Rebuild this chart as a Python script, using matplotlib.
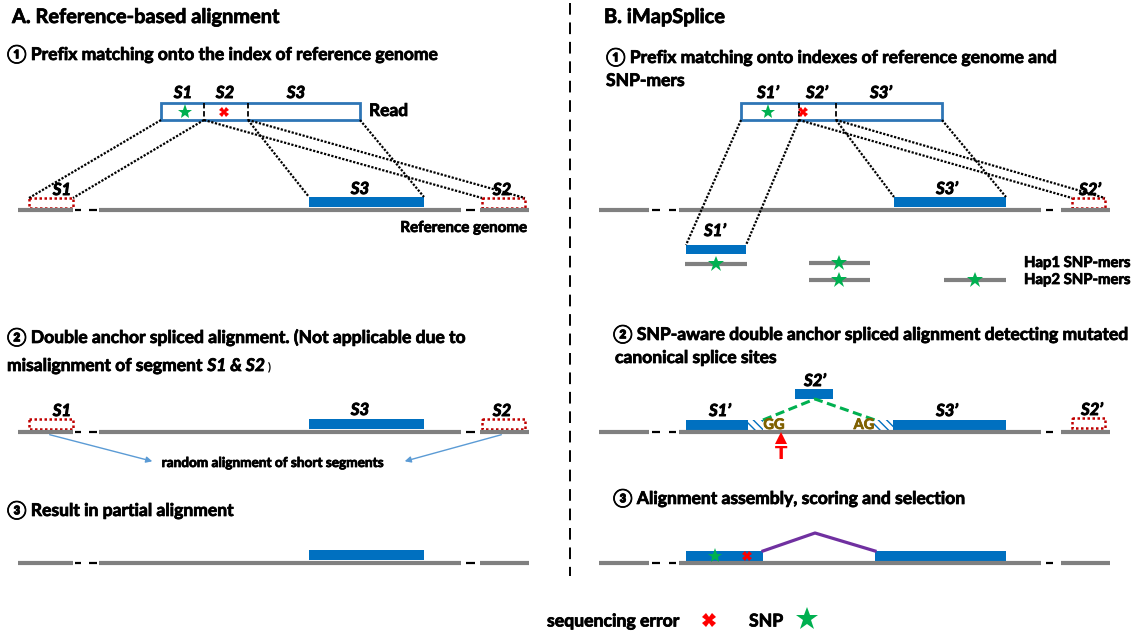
import matplotlib
matplotlib.use("Agg")
import matplotlib.pyplot as plt
from matplotlib.patches import Rectangle, FancyArrowPatch
import matplotlib.patheffects as pe

FONT = ['Lato', 'Noto Sans CJK SC', 'DejaVu Sans']
plt.rcParams['font.family'] = FONT

BLUE = '#0070C0'
BOXBLUE = '#2E75B6'
GRAY = '#808080'
RED_DOT = '#C00000'
GREEN = '#00B050'
RED = '#FF0000'
PURPLE = '#7030A0'
BROWN = '#7F6000'
ARROW = '#5B9BD5'

# ---- text content ----
title_a = "A. Reference-based alignment"
title_b = "B. iMapSplice"
step_a = ["\u2460 Prefix matching onto the index of reference genome",
          "\u2461 Double anchor spliced alignment. (Not applicable due to",
          "\u2462 Result in partial alignment"]
step_b = ["\u2460 Prefix matching onto indexes of reference genome and",
          "SNP-mers",
          "\u2461 SNP-aware double anchor spliced alignment detecting mutated",
          "canonical splice sites",
          "\u2462 Alignment assembly, scoring and selection"]

# ---- layout elements (pixel coordinates, y downward) ----
genome_a = [(18, 73), (99, 461), (480, 529)]
dashes_a = [(75, 81), (89, 97), (466, 475)]
genome_b = [(599, 649), (679, 1041), (1061, 1110)]
dashes_b = [(652, 660), (669, 676), (1046, 1053)]

read_a = (161, 360)
div_a = [204, 248]
read_b = (741, 942)
div_b = [799, 836]

fig = plt.figure(figsize=(11.42, 6.32), dpi=100)
ax = fig.add_axes([0, 0, 1, 1])
ax.set_xlim(0, 1142)
ax.set_ylim(632, 0)
ax.axis('off')

HS = 12.6  # heading size


def fx(color, w=0.55):
    return [pe.withStroke(linewidth=w, foreground=color)]


def txt(x, y, s, size=HS, ha='left', style='normal', color='black', weight='bold', **kw):
    return ax.text(x, y, s, fontsize=size, ha=ha, va='center', fontweight=weight,
                   fontstyle=style, color=color, path_effects=fx(color), **kw)


def seglabel(x, y, s, size=12):
    ax.text(x, y, s, fontsize=size, ha='center', va='center', fontweight='bold',
            fontstyle='italic', color='black', path_effects=fx('black', 0.7))


def genome(y, segs, dashes):
    for x0, x1 in segs:
        ax.plot([x0, x1], [y, y], color=GRAY, lw=3, solid_capstyle='butt')
    for x0, x1 in dashes:
        ax.plot([x0, x1], [y, y], color='black', lw=1.6, solid_capstyle='butt')


def bar(x0, x1, y0, y1, color=BLUE):
    ax.add_patch(Rectangle((x0, y0), x1 - x0, y1 - y0, facecolor=color, edgecolor='none'))


def hatchbar(x0, x1, y0, y1):
    ax.add_patch(Rectangle((x0, y0), x1 - x0, y1 - y0, facecolor='white', edgecolor=BLUE,
                           hatch='\\\\\\\\', lw=0))


def redbox(x0, x1, y0, y1):
    ax.add_patch(Rectangle((x0, y0), x1 - x0, y1 - y0, facecolor='none', edgecolor=RED_DOT,
                           lw=1.8, linestyle=(0, (1, 1))))


def readbox(x0, x1, y0, y1, divs):
    ax.add_patch(Rectangle((x0, y0), x1 - x0, y1 - y0, facecolor='white', edgecolor=BOXBLUE, lw=2))
    for d in divs:
        ax.plot([d, d], [y0, y1], color='black', lw=1.3, linestyle=(0, (3, 1.5)))


def dotted(p, q):
    ax.plot([p[0], q[0]], [p[1], q[1]], color='black', lw=1.6, linestyle=(0, (1, 0.7)))


def star(x, y, s=11):
    ax.plot([x], [y], marker='*', color=GREEN, markersize=s, markeredgewidth=0, zorder=5)


def xmark(x, y, s=7):
    ax.plot([x], [y], marker='X', color=RED, markersize=s, markeredgewidth=0, zorder=5)


# ================= Panel A =================
txt(12, 17, title_a, size=14.4)
txt(7, 54, step_a[0])

readbox(read_a[0], read_a[1], 103, 120, div_a)
seglabel(183, 93, "S1")
seglabel(225, 93, "S2")
seglabel(296, 93, "S3")
star(185, 112)
xmark(224, 112)
txt(369, 111, "Read", size=12.5)

genome(210, genome_a, dashes_a)
redbox(29, 73, 198, 208)
redbox(482, 525, 198, 208)
bar(309, 424, 197, 207)
seglabel(62, 190, "S1")
seglabel(360, 189, "S3")
seglabel(502, 190, "S2")
dotted((161, 120), (29, 198))
dotted((204, 120), (73, 198))
dotted((204, 120), (482, 198))
dotted((248, 120), (309, 197))
dotted((248, 120), (525, 198))
dotted((360, 120), (424, 197))
txt(527, 228, "Reference genome", size=10.9, ha='right')

# step 2
txt(7, 337, step_a[1])
t1 = txt(7, 366, "misalignment of segment ")
t2 = ax.annotate("S1 & S2", xy=(1, 0.5), xycoords=t1, va='center', ha='left',
                 fontsize=HS, fontweight='bold', fontstyle='italic',
                 path_effects=fx('black'))
ax.annotate(" )", xy=(1, 0.45), xycoords=t2, va='center', ha='left',
            fontsize=8.5, fontweight='bold')

genome(432, genome_a, dashes_a)
redbox(29, 73, 419, 429)
redbox(482, 525, 419, 429)
bar(309, 424, 419, 429)
seglabel(62, 411, "S1")
seglabel(360, 410, "S3")
seglabel(502, 411, "S2")
for p, q in [((47, 434), (155, 462)), ((504, 434), (402, 462))]:
    ax.add_patch(FancyArrowPatch(p, q, arrowstyle='-|>', mutation_scale=9, color=ARROW, lw=1))
txt(273, 463, "random alignment of short segments", size=9.8, ha='center')

# step 3
txt(7, 510, step_a[2])
genome(563, genome_a, dashes_a)
bar(309, 424, 550, 560)

# ================= divider =================
ax.plot([570, 570], [3, 576], color='black', lw=1.4, linestyle=(0, (6, 4)))

# ================= Panel B =================
txt(604, 17, title_b, size=14.4)
txt(606, 57, step_b[0])
txt(606, 81, step_b[1])

readbox(read_b[0], read_b[1], 103, 120, div_b)
seglabel(768, 93, "S1\u2019")
seglabel(817, 93, "S2\u2019")
seglabel(881, 93, "S3\u2019")
star(768, 112)
xmark(803, 112)

genome(210, genome_b, dashes_b)
bar(894, 1006, 197, 207)
redbox(1072, 1105, 198, 208)
seglabel(947, 189, "S3\u2019")
seglabel(1090, 190, "S2\u2019")
bar(686, 746, 245, 254)
seglabel(715, 231, "S1\u2019")
dotted((741, 120), (686, 245))
dotted((799, 120), (746, 245))
dotted((799, 120), (1072, 198))
dotted((836, 120), (894, 197))
dotted((836, 120), (1105, 198))
dotted((942, 120), (1006, 197))

# SNP-mers
for (x0, x1, y, sx) in [(685, 747, 264, 716), (809, 870, 263, 839),
                        (809, 870, 280, 839), (944, 1006, 280, 975)]:
    ax.plot([x0, x1], [y, y], color=GRAY, lw=3, solid_capstyle='butt')
    star(sx, y, 12)
txt(1024, 263, "Hap1 SNP-mers", size=10.7)
txt(1024, 280, "Hap2 SNP-mers", size=10.7)

# step 2
txt(613, 334, step_b[2])
txt(615, 358, step_b[3])
genome(432, genome_b, dashes_b)
bar(686, 748, 420, 430)
hatchbar(748, 763, 420, 430)
hatchbar(874, 893, 420, 430)
bar(893, 1006, 420, 430)
bar(795, 833, 389, 399)
redbox(1072, 1105, 418, 428)
seglabel(720, 411, "S1\u2019")
seglabel(815, 381, "S2\u2019")
seglabel(947, 411, "S3\u2019")
seglabel(1092, 410, "S2\u2019")
ax.plot([763, 815, 875], [420, 399, 420], color=GREEN, lw=2.2, linestyle=(0, (3, 1.5)))
txt(774, 425, "GG", size=10.5, ha='center', color=BROWN)
txt(864, 425, "AG", size=10.5, ha='center', color=BROWN)
ax.plot([781], [438], marker='^', color=RED, markersize=8, markeredgewidth=0)
ax.text(781, 454, "T", fontsize=13, ha='center', va='center', fontweight='bold',
        color=RED, family=['DejaVu Sans'])

# step 3
txt(613, 498, step_b[4])
genome(563, genome_b, dashes_b)
bar(686, 763, 551, 561)
bar(875, 1006, 551, 561)
star(715, 556)
xmark(747, 556)
ax.plot([763, 815, 875], [551, 533, 551], color=PURPLE, lw=2.3)

# ================= legend =================
txt(547, 621, "sequencing error", size=12.7)
xmark(709, 620, 10)
txt(749, 621, "SNP", size=12.7)
star(807, 619, 17)

fig.savefig("out.png", dpi=100)
